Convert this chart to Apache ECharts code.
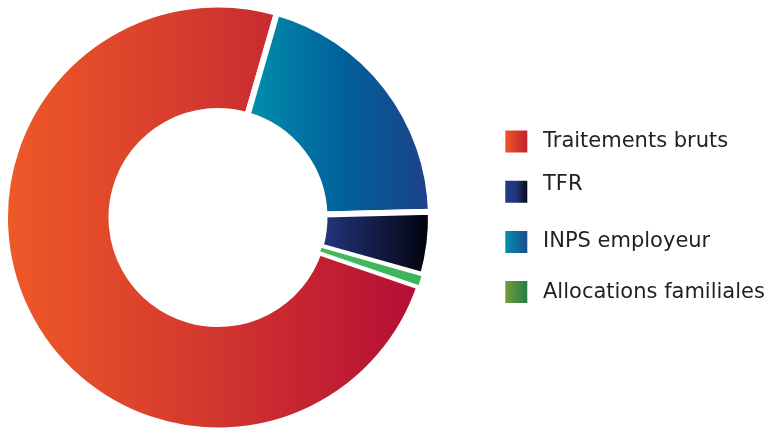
<!DOCTYPE html>
<html>
<head>
<meta charset="utf-8">
<script src="https://cdn.jsdelivr.net/npm/echarts@6/dist/echarts.min.js"></script>
<style>
  html, body { margin: 0; padding: 0; background: #fff; }
  #chart { width: 768px; height: 431px; }
</style>
</head>
<body>
<div id="chart"></div>
<script>
// parts in %, clockwise order of the ring
const names = ["Traitements bruts", "INPS employeur", "TFR", "Allocations familiales"];
const values = [74.2, 20.1, 4.8, 0.9];
const legendOrder = ["Traitements bruts", "TFR", "INPS employeur", "Allocations familiales"];

function grad(stops) {
  return new echarts.graphic.LinearGradient(0, 0, 1, 0,
    stops.map(function (c, i) { return { offset: i / (stops.length - 1), color: c }; }));
}

const colors = {
  "Traitements bruts": grad(["#ef5a27", "#d2372e", "#b40d36"]),
  "INPS employeur": grad(["#0092ad", "#00629a", "#1e3f89"]),
  "TFR": grad(["#243883", "#141c44", "#000008"]),
  "Allocations familiales": grad(["#45ba5a", "#3bb45c"])
};
const legendColors = {
  "Traitements bruts": grad(["#f15a29", "#be1e2d"]),
  "TFR": new echarts.graphic.LinearGradient(0, 0, 1, 0, [
    { offset: 0, color: "#243b85" }, { offset: 0.5, color: "#22367c" }, { offset: 1, color: "#000000" }]),
  "INPS employeur": grad(["#0098b1", "#1f4689"]),
  "Allocations familiales": grad(["#7a9e3a", "#1e7a48"])
};

const font = "DejaVu Sans";
const chart = echarts.init(document.getElementById("chart"));
chart.setOption({
  animation: false,
  legend: {
    orient: "vertical",
    left: 503.3,
    top: 124,
    padding: 0,
    itemWidth: 24,
    itemHeight: 24,
    itemGap: 15.2,
    icon: "rect",
    selectedMode: false,
    data: legendOrder.map(function (n) {
      return { name: n, itemStyle: { color: legendColors[n] } };
    }),
    formatter: function (n) {
      return n === "TFR" ? "{up|" + n + "}" : "{mid|" + n + "}";
    },
    textStyle: {
      fontFamily: font,
      fontSize: 21,
      color: "#231f20",
      rich: {
        mid: { fontFamily: font, fontSize: 21, color: "#231f20", lineHeight: 21, padding: [7, 0, 7, 9.7] },
        up: { fontFamily: font, fontSize: 21, color: "#231f20", lineHeight: 21, padding: [0, 0, 14, 9.7] }
      }
    }
  },
  series: [{
    type: "pie",
    center: [218, 217.5],
    radius: [106.5, 213],
    startAngle: -18.95,
    clockwise: true,
    label: { show: false },
    labelLine: { show: false },
    emphasis: { disabled: true },
    itemStyle: { borderColor: "#fff", borderWidth: 6 },
    data: names.map(function (n, i) {
      const d = { name: n, value: values[i], itemStyle: { color: colors[n] } };
      if (n === "Allocations familiales") d.itemStyle.borderWidth = 2.5;
      return d;
    })
  }]
});
</script>
</body>
</html>
